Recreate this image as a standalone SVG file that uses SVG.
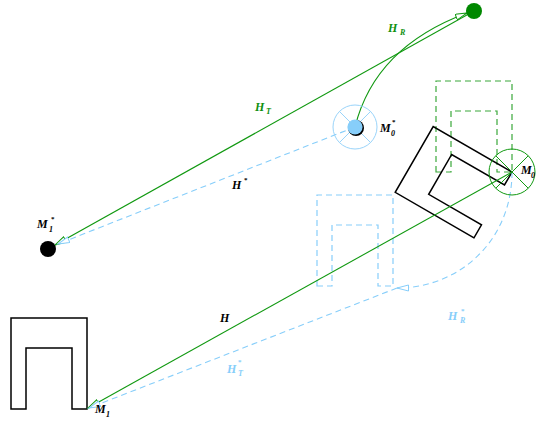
<svg xmlns="http://www.w3.org/2000/svg" width="540" height="424" viewBox="0 0 540 424">
<style>
.lbl{font-family:"Liberation Serif","Times New Roman",serif;font-weight:bold;font-style:italic;font-size:12px}
.sub{font-size:8px}
.sup{font-size:7px;font-style:normal}
.blk{fill:#000}
.grn{fill:#109010}
.blu{fill:#87CEFA}
.shape{fill:none;stroke:#000;stroke-width:1.5}
.gdash{fill:none;stroke:#3aa83a;stroke-width:1.2;stroke-dasharray:6 4}
.bdash{fill:none;stroke:#87CEFA;stroke-width:1.2;stroke-dasharray:6 4}
.gline{fill:none;stroke:#119911;stroke-width:1.1}
.bline{fill:none;stroke:#87CEFA;stroke-width:1.1;stroke-dasharray:6 4}
</style>
<defs>
<path id="ushape" d="M11,409 L11,318 L87,318 L87,409 L72,409 L72,348 L26,348 L26,409 Z"/>
<marker id="ag" markerUnits="userSpaceOnUse" markerWidth="14" markerHeight="9" refX="12" refY="3.5" orient="auto">
<path d="M0.5,0.5 L12,3.5 L0.5,6.5 Z" fill="#fff" stroke="#119911" stroke-width="1"/>
</marker>
<marker id="ab" markerUnits="userSpaceOnUse" markerWidth="14" markerHeight="9" refX="12" refY="3.5" orient="auto">
<path d="M0.5,0.5 L12,3.5 L0.5,6.5 Z" fill="#fff" stroke="#87CEFA" stroke-width="1"/>
</marker>
</defs>

<g id="shape-M1">
<use href="#ushape" class="shape"/>
</g>
<g id="shape-ghost-blue">
<use href="#ushape" class="bdash" transform="translate(306,-123)"/>
</g>
<g id="shape-ghost-green">
<use href="#ushape" class="gdash" transform="translate(425,-237)"/>
</g>
<g id="shape-M0">
<use href="#ushape" class="shape" transform="translate(512,172) rotate(-60) translate(-87,-409)"/>
</g>

<g id="connectors">
<path class="gline" d="M474,11 L55,245" marker-end="url(#ag)"/>
<path class="gline" d="M355,127 Q375,47 467,13" marker-end="url(#ag)"/>
<path class="gline" d="M512,172 L88,408" marker-end="url(#ag)"/>
<path class="bline" d="M355,127 L58,244" marker-end="url(#ab)"/>
<path class="bline" d="M512,172 C512,240 460,288 397,288" marker-end="url(#ab)"/>
<path class="bline" d="M397,288 L89,408" marker-end="url(#ab)"/>
<text class="lbl grn" x="388" y="32">H<tspan class="sub" x="400" y="35">R</tspan></text>
<text class="lbl grn" x="255" y="111">H<tspan class="sub" x="266" y="114">T</tspan></text>
<text class="lbl blk" x="232" y="189">H<tspan class="sup" x="244" y="182">*</tspan></text>
<text class="lbl blk" x="220" y="322">H</text>
<text class="lbl blu" x="227" y="373">H<tspan class="sub" x="238" y="376">T</tspan><tspan class="sup" x="238" y="364">*</tspan></text>
<text class="lbl blu" x="448" y="320">H<tspan class="sub" x="460" y="323">R</tspan><tspan class="sup" x="461" y="313">*</tspan></text>
</g>

<g id="node-target">
<circle cx="474" cy="11" r="8" fill="#008800"/>
</g>

<g id="node-M0star">
<circle cx="355" cy="127" r="22" fill="none" stroke="#9ad4fa" stroke-width="1"/>
<path d="M339.4,111.4 L370.6,142.6 M370.6,111.4 L339.4,142.6" stroke="#9ad4fa" stroke-width="1"/>
<circle cx="356" cy="128" r="8" fill="#000"/>
<circle cx="355" cy="127" r="7.6" fill="#87CEFA"/>
<text class="lbl blk" x="380" y="132">M<tspan class="sub" x="391" y="136">0</tspan><tspan class="sup" x="392" y="124">*</tspan></text>
</g>

<g id="node-M0">
<circle cx="512" cy="172" r="23" fill="none" stroke="#119911" stroke-width="1"/>
<path d="M495.7,155.7 L528.3,188.3 M528.3,155.7 L495.7,188.3" stroke="#119911" stroke-width="1"/>
<text class="lbl blk" x="521" y="174">M<tspan class="sub" x="531" y="178">0</tspan></text>
</g>

<g id="node-M1star">
<circle cx="48" cy="249" r="8" fill="#000"/>
<text class="lbl blk" x="37" y="228">M<tspan class="sub" x="49" y="232">1</tspan><tspan class="sup" x="51" y="221">*</tspan></text>
</g>

<g id="node-M1">
<text class="lbl blk" x="95" y="413">M<tspan class="sub" x="106" y="417">1</tspan></text>
</g>
</svg>
